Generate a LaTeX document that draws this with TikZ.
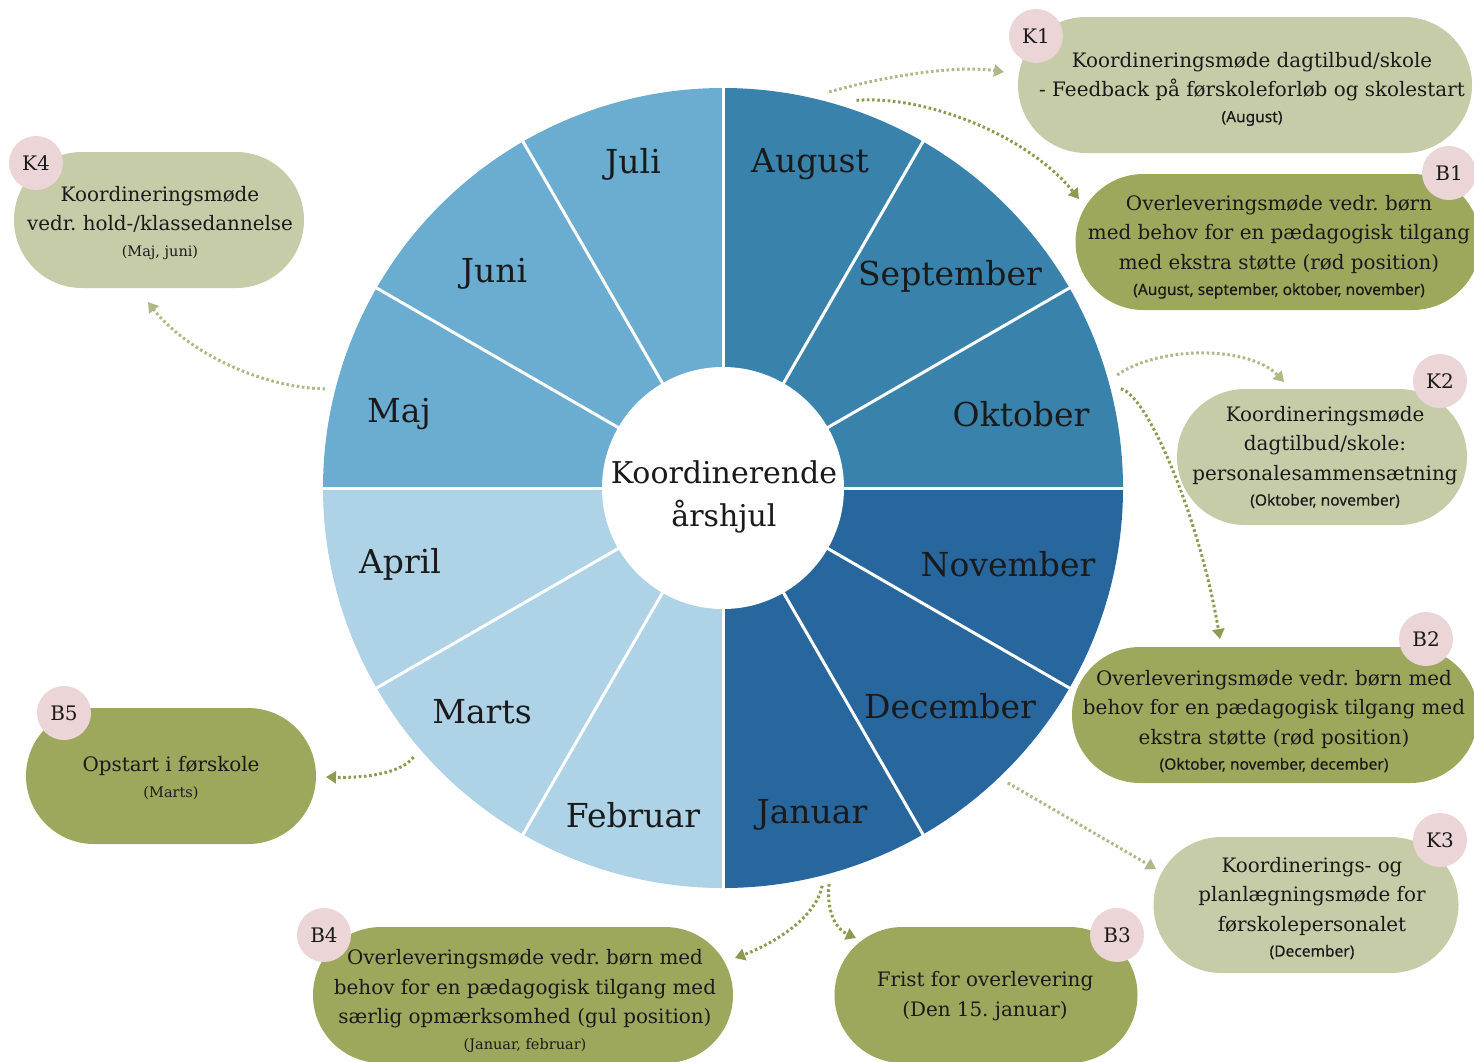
\documentclass[tikz,border=0pt]{standalone}
\usepackage{fontspec}
\setmainfont{DejaVu Serif}
\newfontfamily\notefont[FakeBold=0.4]{Noto Sans}
\usetikzlibrary{arrows.meta,calc}

\definecolor{summer}{HTML}{6AADD1}
\definecolor{autumn}{HTML}{3882AB}
\definecolor{winter}{HTML}{28679E}
\definecolor{spring}{HTML}{AED3E6}
\definecolor{kfill}{HTML}{C6CCA7}
\definecolor{bfill}{HTML}{9DA85D}
\definecolor{badge}{HTML}{EBD5D6}
\definecolor{arrowlight}{HTML}{AFB886}
\definecolor{arrowdark}{HTML}{8D9B50}
\definecolor{ink}{HTML}{1A1A1A}

\newcommand{\bodyfont}{\fontsize{19.9}{29.5}\selectfont}
\newcommand{\smallsans}{\notefont\fontsize{15.5}{18}\selectfont}
\newcommand{\smallserif}{\fontsize{14.5}{18}\selectfont}

\tikzset{
  month/.style={text=ink, font=\fontsize{33}{33}\selectfont, inner sep=0},
  meeting/.style={rectangle, rounded corners=68, minimum height=136, inner sep=0},
  kbox/.style={meeting, fill=kfill},
  bbox/.style={meeting, fill=bfill},
  boxtext/.style={align=center, text=ink, font=\bodyfont, inner sep=0},
  tag/.style={circle, fill=badge, minimum size=54, inner sep=0, text=ink,
    font=\fontsize{20}{20}\selectfont},
  flow/.style={line width=3, dash pattern=on 2.6 off 2.6,
    -{Triangle[length=10,width=12]}},
  flowk/.style={flow, draw=arrowlight, arrowlight},
  flowb/.style={flow, draw=arrowdark, arrowdark},
}

\begin{document}
\frenchspacing
\begin{tikzpicture}[x=1pt, y=-1pt]
\useasboundingbox (0,0) rectangle (1474,1061);
\clip (0,0) rectangle (1474,1061);

% ---- the year wheel: twelve month sectors ----
\begin{scope}[shift={(723,488)}, yscale=-1]
  \foreach \a/\c in {0/autumn,30/autumn,60/autumn,90/summer,120/summer,150/summer,
                     180/spring,210/spring,240/spring,270/winter,300/winter,330/winter}
    \fill[\c] (0,0) -- (\a:400) arc[start angle=\a, end angle=\a+30, radius=400] -- cycle;
  \foreach \a in {0,30,...,330}
    \draw[white, line width=3] (\a:110) -- (\a:405);
\end{scope}
\node[circle, minimum size=820, inner sep=0, outer sep=0] (wheel) at (723,488) {};
\node[circle, fill=white, minimum size=242, inner sep=0] (hub) at (723,488) {};
\node[align=center, text=ink, font=\fontsize{30}{43}\selectfont] (hubtitle) at (724,497)
  {Koordinerende\\årshjul};

% month names
\node[month] (jul) at (633,164) {Juli};
\node[month] (aug) at (810,164) {August};
\node[month] (jun) at (494,274) {Juni};
\node[month] (sep) at (950,276) {September};
\node[month] (maj) at (399,414) {Maj};
\node[month] (okt) at (1021,414) {Oktober};
\node[month] (apr) at (400,564) {April};
\node[month] (nov) at (1008,564) {November};
\node[month] (mar) at (482,712) {Marts};
\node[month] (dec) at (950,706) {December};
\node[month] (feb) at (633,815) {Februar};
\node[month] (jan) at (812,815) {Januar};

% ---- meetings: boxes ----
\node[kbox, minimum width=454] (k1) at (1245,85) {};
\node[bbox, minimum width=405] (b1) at (1278,242) {};
\node[kbox, minimum width=290] (k4) at (159,220) {};
\node[kbox, minimum width=290] (k2) at (1322,457) {};
\node[bbox, minimum width=406] (b2) at (1275,715) {};
\node[kbox, minimum width=305] (k3) at (1306,905) {};
\node[bbox, minimum width=290] (b5) at (171,776) {};
\node[bbox, minimum width=420] (b4) at (523,995) {};
\node[bbox, minimum width=303] (b3) at (986,995) {};

% ---- meetings: texts ----
\node[boxtext] (k1text) at ([xshift=7,yshift=-4]k1.center)
  {Koordineringsmøde dagtilbud/skole\\- Feedback på førskoleforløb og skolestart\\[-4pt]{\smallsans (August)}};
\node[boxtext] (b1text) at ([xshift=1,yshift=-5]b1.center)
  {Overleveringsmøde vedr. børn\\med behov for en pædagogisk tilgang\\med ekstra støtte (rød position)\\[-4pt]{\smallsans (August, september, oktober, november)}};
\node[boxtext] (k4text) at ([xshift=1,yshift=-3]k4.center)
  {Koordineringsmøde\\vedr. hold-/klassedannelse\\[-4pt]{\smallserif (Maj, juni)}};
\node[boxtext] (k2text) at ([xshift=3,yshift=0]k2.center)
  {Koordineringsmøde\\dagtilbud/skole:\\personalesammensætning\\[-4pt]{\smallsans (Oktober, november)}};
\node[boxtext] (b2text) at ([xshift=-1,yshift=-6]b2.center)
  {Overleveringsmøde vedr. børn med\\behov for en pædagogisk tilgang med\\ekstra støtte (rød position)\\[-4pt]{\smallsans (Oktober, november, december)}};
\node[boxtext] (k3text) at ([xshift=6,yshift=-3]k3.center)
  {Koordinerings- og\\planlægningsmøde for\\førskolepersonalet\\[-4pt]{\smallsans (December)}};
\node[boxtext] (b5text) at ([xshift=0,yshift=-2]b5.center)
  {Opstart i førskole\\[-4pt]{\smallserif (Marts)}};
\node[boxtext] (b4text) at ([xshift=2,yshift=-6]b4.center)
  {Overleveringsmøde vedr. børn med\\behov for en pædagogisk tilgang med\\særlig opmærksomhed (gul position)\\[-4pt]{\smallserif (Januar, februar)}};
\node[boxtext] (b3text) at ([xshift=-1,yshift=-1]b3.center)
  {Frist for overlevering\\(Den 15. januar)};

% badges
\node[tag] (k1tag) at (1036,36) {K1};
\node[tag] (b1tag) at (1449,173) {B1};
\node[tag] (k4tag) at (36,163) {K4};
\node[tag] (k2tag) at (1440,381) {K2};
\node[tag] (b2tag) at (1426,639) {B2};
\node[tag] (k3tag) at (1440,840) {K3};
\node[tag] (b5tag) at (64,713) {B5};
\node[tag] (b4tag) at (324,935) {B4};
\node[tag] (b3tag) at (1117,935) {B3};

% ---- arrow tips in front of the meetings ----
\coordinate (k1in) at (1004,72);
\coordinate (b1in) at (1079,199);
\coordinate (k2in) at (1284,382);
\coordinate (b2in) at (1220,639);
\coordinate (k3in) at (1156,869);
\coordinate (b3in) at (856,938);
\coordinate (b4in) at (735,958);
\coordinate (b5in) at (326,777);
\coordinate (k4in) at (148,302);

% ---- connectors from the wheel ----
\draw[flowk] (wheel.75) .. controls (870,80) and (950,64) .. (k1in);
\draw[flowb] (wheel.71) .. controls (930,95) and (1030,138) .. (b1in);
\draw[flowk] (wheel.16.5) .. controls (1160,345) and (1250,346) .. (k2in);
\draw[flowb] (wheel.14.5) .. controls (1148,395) and (1200,520) .. (b2in);
\draw[flowk] (wheel.-46) -- (k3in);
\draw[flowb] (wheel.-75.5) .. controls (826,915) and (838,930) .. (b3in);
\draw[flowb] (wheel.-76.5) .. controls (815,920) and (770,945) .. (b4in);
\draw[flowb] (wheel.221.8) .. controls (400,775) and (360,778) .. (b5in);
\draw[flowk] (wheel.166) .. controls (260,388) and (185,350) .. (k4in);
\end{tikzpicture}
\end{document}
